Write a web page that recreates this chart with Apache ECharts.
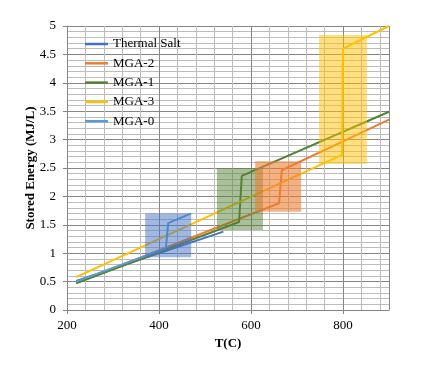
<!DOCTYPE html>
<html>
<head>
<meta charset="utf-8">
<script src="https://cdn.jsdelivr.net/npm/echarts@6/dist/echarts.min.js"></script>
<style>html,body{margin:0;padding:0;background:#fff}#c{width:437px;height:369px}</style>
</head>
<body>
<div id="c"></div>
<script>
// Data
const seriesNames = ['Thermal Salt', 'MGA-2', 'MGA-1', 'MGA-3', 'MGA-0'];
const seriesColors = ['#4472C4', '#ED7D31', '#548235', '#FFC000', '#5B9BD5'];
const thermalSaltT = [220, 540];
const thermalSaltE = [0.51, 1.38];
const mga2T = [220, 661, 667, 900];
const mga2E = [0.48, 1.88, 2.46, 3.35];
const mga1T = [220, 574, 580, 900];
const mga1E = [0.47, 1.55, 2.36, 3.49];
const mga3T = [220, 798, 800, 900];
const mga3E = [0.58, 2.73, 4.60, 5.00];
const mga0T = [220, 415, 420, 470];
const mga0E = [0.50, 1.09, 1.53, 1.70];
// shaded boxes (x0, x1, y0, y1)
const boxX0 = [370, 526, 609, 748];
const boxX1 = [470, 626, 709, 852];
const boxY0 = [0.93, 1.41, 1.73, 2.57];
const boxY1 = [1.70, 2.50, 2.62, 4.84];
const boxColors = ['rgba(68,114,196,0.5)', 'rgba(84,130,53,0.5)', 'rgba(237,125,49,0.6)', 'rgba(255,192,0,0.5)'];

const FONT = 'Liberation Serif';
const zip = (a, b) => a.map((v, i) => [v, b[i]]);
const lineData = [zip(thermalSaltT, thermalSaltE), zip(mga2T, mga2E), zip(mga1T, mga1E), zip(mga3T, mga3E), zip(mga0T, mga0E)];

const chart = echarts.init(document.getElementById('c'), null, {renderer: 'canvas'});
const lineSeries = seriesNames.map((n, i) => ({
  name: n, type: 'line', xAxisIndex: 0, data: lineData[i], showSymbol: false, symbol: 'none',
  lineStyle: {width: 2, color: seriesColors[i]}, itemStyle: {color: seriesColors[i]}, z: 3
}));
const boxSeries = {
  type: 'custom', xAxisIndex: 0, silent: true, z: 5,
  encode: {x: [0, 1], y: [2, 3]},
  data: boxX0.map((v, i) => [v, boxX1[i], boxY0[i], boxY1[i]]),
  renderItem: (params, api) => {
    const p0 = api.coord([api.value(0), api.value(3)]);
    const p1 = api.coord([api.value(1), api.value(2)]);
    return {type: 'rect', shape: {x: p0[0], y: p0[1], width: p1[0] - p0[0], height: p1[1] - p0[1]},
      style: {fill: boxColors[params.dataIndex]}};
  }
};
chart.setOption({
  animation: false,
  backgroundColor: '#fff',
  grid: {left: 67, right: 48, top: 26, bottom: 59},
  legend: {
    data: seriesNames, orient: 'vertical', left: 80, top: 32, icon: 'rect',
    itemWidth: 23, itemHeight: 2.5, itemGap: 5.3,
    textStyle: {fontFamily: FONT, fontSize: 13, color: '#000', lineHeight: 14}
  },
  xAxis: [
    {type: 'value', position: 'bottom', min: 200, max: 900, interval: 40,
      axisLabel: {show: false}, axisTick: {show: false}, axisLine: {show: false},
      splitLine: {show: true, lineStyle: {color: '#bcbcbc', width: 1}}},
    {type: 'value', position: 'bottom', min: 200, max: 900, interval: 200,
      axisLabel: {showMaxLabel: false, fontFamily: FONT, fontSize: 13, color: '#000', margin: 9},
      axisTick: {show: true, length: 4, lineStyle: {color: '#868686'}},
      axisLine: {show: true, lineStyle: {color: '#868686'}},
      splitLine: {show: true, lineStyle: {color: '#868686', width: 1}},
      name: 'T(C)', nameLocation: 'middle', nameGap: 27, nameMoveOverlap: false,
      nameTextStyle: {fontFamily: FONT, fontSize: 13, fontWeight: 'bold', color: '#000'}}
  ],
  yAxis: {
    type: 'value', min: 0, max: 5, interval: 0.5,
    axisLabel: {fontFamily: FONT, fontSize: 13, color: '#000', margin: 11},
    axisTick: {show: true, length: 4, lineStyle: {color: '#868686'}},
    axisLine: {show: true, lineStyle: {color: '#868686'}},
    splitLine: {show: true, lineStyle: {color: '#868686', width: 1}},
    minorTick: {show: false, splitNumber: 5},
    minorSplitLine: {show: true, lineStyle: {color: '#bcbcbc', width: 1}},
    name: 'Stored Energy (MJ/L)', nameLocation: 'middle', nameGap: 30, nameMoveOverlap: false,
    nameTextStyle: {fontFamily: FONT, fontSize: 13, fontWeight: 'bold', color: '#000'}
  },
  series: [...lineSeries, boxSeries]
});
</script>
</body>
</html>
